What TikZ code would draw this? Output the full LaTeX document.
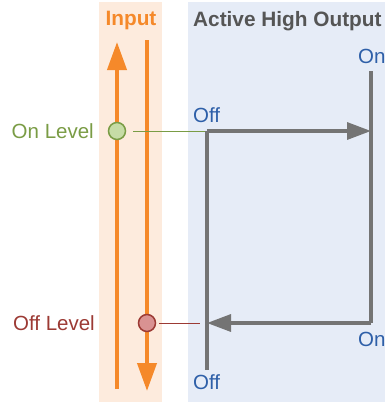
\documentclass[tikz,border=0pt]{standalone}
\usepackage{fontspec}
\setmainfont{Liberation Sans}
\usetikzlibrary{arrows.meta}
\definecolor{bandorange}{HTML}{FDEBDD}
\definecolor{bandblue}{HTML}{E6ECF7}
\definecolor{lineorange}{HTML}{F5892A}
\definecolor{outgray}{HTML}{747474}
\definecolor{titlegray}{HTML}{555555}
\definecolor{labelblue}{HTML}{2E5FA8}
\definecolor{ongreen}{HTML}{7A9C45}
\definecolor{ongreenfill}{HTML}{C6DCA6}
\definecolor{offred}{HTML}{9C3A34}
\definecolor{offredfill}{HTML}{D99292}
\begin{document}
\begin{tikzpicture}[x=1pt,y=-1pt,
  lbl/.style={font=\fontsize{20.5}{24}\selectfont, inner sep=0pt},
  ttl/.style={font=\fontsize{20.8}{24}\selectfont\bfseries, inner sep=0pt},
  inline/.style={lineorange, line width=4pt},
  outline/.style={outgray, line width=3.3pt},
  otip/.style={-{Triangle[length=28pt,width=19pt]}},
  gtip/.style={-{Triangle[length=24pt,width=17pt]}},
  lvl/.style={circle, minimum size=17pt, inner sep=0pt, line width=1.5pt}]
\useasboundingbox (0,0) rectangle (385,402);
\fill[bandorange] (99,2) rectangle (162,402);
\fill[bandblue] (188,2) rectangle (385,402);
\node[ttl, text=lineorange, anchor=base] (input) at (131,25) {Input};
\node[ttl, text=titlegray, anchor=base west] (title) at (193,26) {Active High Output};
% input lines
\coordinate (upB) at (117,389);
\coordinate (upT) at (117,42);
\coordinate (dnT) at (147,40);
\coordinate (dnB) at (147,391);
\draw[inline, otip] (upB) -- (upT);
\draw[inline, otip] (dnT) -- (dnB);
% level markers
\node[lvl, draw=ongreen, fill=ongreenfill] (onlvl) at (117,131) {};
\node[lvl, draw=offred, fill=offredfill] (offlvl) at (147,323) {};
\node[lbl, text=ongreen, anchor=east] (onlbl) at (94,131) {On Level};
\node[lbl, text=offred, anchor=east] (offlbl) at (95,323) {Off Level};
\coordinate (gS) at (133,131);
\coordinate (gE) at (207,131);
\coordinate (rS) at (159,323);
\coordinate (rE) at (200,323);
\draw[ongreen, line width=1pt] (gS) -- (gE);
\draw[offred, line width=1pt] (rS) -- (rE);
% output
\coordinate (lB) at (207,370);
\coordinate (lT) at (207,131);
\coordinate (rT0) at (371,71);
\coordinate (rT) at (371,131);
\coordinate (rB) at (371,323);
\coordinate (lM) at (207,323);
\draw[outline] (lB) -- (lT);
\draw[outline, gtip] (lT) -- (rT);
\draw[outline] (rT0) -- (rB);
\draw[outline, gtip] (rB) -- (lM);
\node[lbl, text=labelblue, anchor=base west] (on1) at (358,63) {On};
\node[lbl, text=labelblue, anchor=base west] (off1) at (193,122) {Off};
\node[lbl, text=labelblue, anchor=base west] (on2) at (358,346) {On};
\node[lbl, text=labelblue, anchor=base west] (off2) at (193,389) {Off};
\end{tikzpicture}
\end{document}
